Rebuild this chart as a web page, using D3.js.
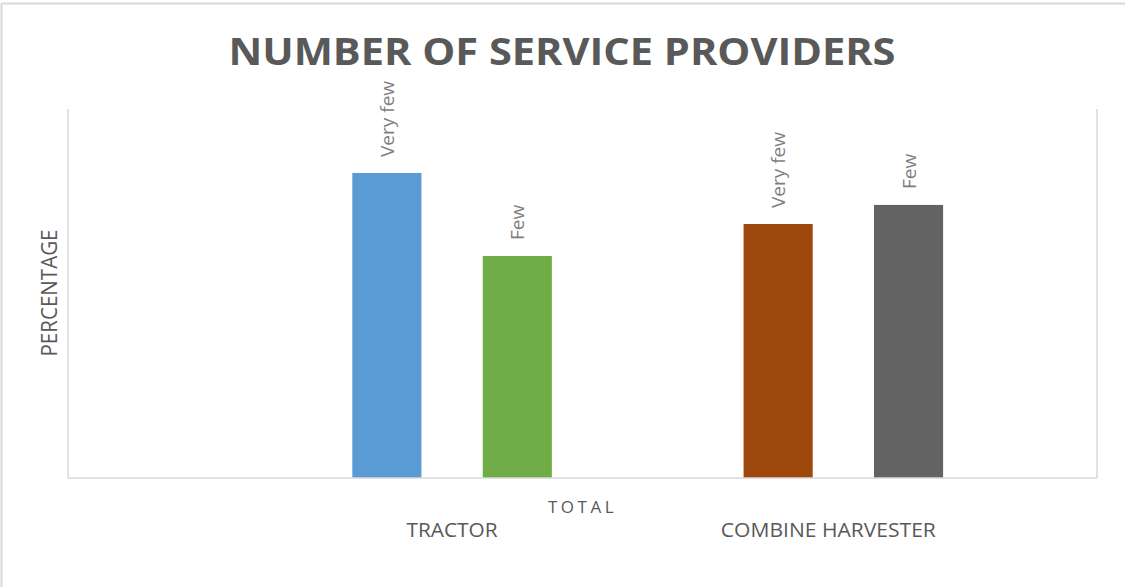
<!DOCTYPE html>
<html>
<head>
<meta charset="utf-8">
<script src="https://cdn.jsdelivr.net/npm/d3@7"></script>
<style>
  html, body { margin: 0; padding: 0; background: #fff; }
  svg { display: block; }
</style>
</head>
<body>
<div class="chart"></div>
<script>
// data
var seriesNames = ["Very few", "Few", "Very few", "Few"];
var seriesValues = [49.6, 36.1, 41.3, 44.4];
var seriesSlots = [2, 3, 5, 6]; // position of each bar among the axis slots
var seriesColors = ["#5B9BD5", "#70AD47", "#9E480E", "#636363"];
var groupNames = ["TRACTOR", "COMBINE HARVESTER"];
var groupSlots = [[2, 3], [5, 6]];
var categoryName = "TOTAL";

var W = 1125, H = 587;
var margin = { top: 109, right: 28, bottom: 109, left: 68 };
var width = W - margin.left - margin.right, height = H - margin.top - margin.bottom;

var svg = d3.select(".chart")
    .append("svg")
    .attr("width", W)
    .attr("height", H);

// outer frame (only top and left edges show)
svg.append("line").attr("x1", 1.5).attr("x2", W).attr("y1", 3.5).attr("y2", 3.5)
    .attr("stroke", "#d9d9d9").attr("stroke-width", 2);
svg.append("line").attr("x1", 1.5).attr("x2", 1.5).attr("y1", 3.5).attr("y2", H)
    .attr("stroke", "#d9d9d9").attr("stroke-width", 2);

var g = svg.append("g")
    .attr("transform", "translate(" + margin.left + "," + margin.top + ")");

var x = d3.scaleBand()
    .domain(d3.range(8))
    .range([0, width])
    .paddingInner(0.47)
    .paddingOuter(0.18);

var y = d3.scaleLinear()
    .domain([0, 60])
    .range([height, 0]);

// plot frame lines
g.append("line").attr("x1", 0).attr("x2", 0).attr("y1", 0).attr("y2", height)
    .attr("stroke", "#d9d9d9").attr("stroke-width", 1.5);
g.append("line").attr("x1", width).attr("x2", width).attr("y1", 0).attr("y2", height)
    .attr("stroke", "#d9d9d9").attr("stroke-width", 1.5);

// bars
g.selectAll("rect.bar")
    .data(seriesValues)
    .enter().append("rect")
    .attr("class", "bar")
    .attr("x", function (d, i) { return x(seriesSlots[i]); })
    .attr("y", function (d) { return y(d); })
    .attr("width", x.bandwidth())
    .attr("height", function (d) { return height - y(d); })
    .attr("fill", function (d, i) { return seriesColors[i]; });

// data labels (series names, rotated)
g.selectAll("text.dlabel")
    .data(seriesValues)
    .enter().append("text")
    .attr("class", "dlabel")
    .attr("transform", function (d, i) {
        return "translate(" + (x(seriesSlots[i]) + x.bandwidth() / 2 + 7) + "," + (y(d) - 16) + ") rotate(-90)";
    })
    .attr("text-anchor", "start")
    .attr("font-family", "'Open Sans', sans-serif")
    .attr("font-size", 19)
    .attr("fill", "#7f7f7f")
    .text(function (d, i) { return seriesNames[i]; });

// baseline axis
g.append("line").attr("x1", 0).attr("x2", width).attr("y1", height).attr("y2", height)
    .attr("stroke", "#d9d9d9").attr("stroke-width", 1.5);

// category label
g.append("text")
    .attr("x", width / 2)
    .attr("y", height + 35)
    .attr("text-anchor", "middle")
    .attr("font-family", "'Open Sans', sans-serif")
    .attr("font-size", 17)
    .attr("letter-spacing", 3.5)
    .attr("fill", "#595959")
    .text(categoryName);

// group labels
var groupShift = [0, -15];
g.selectAll("text.glabel")
    .data(groupNames)
    .enter().append("text")
    .attr("class", "glabel")
    .attr("x", function (d, i) {
        var s = groupSlots[i];
        return (x(s[0]) + x(s[1]) + x.bandwidth()) / 2 + groupShift[i];
    })
    .attr("y", height + 59)
    .attr("text-anchor", "middle")
    .attr("font-family", "'Open Sans', sans-serif")
    .attr("font-size", 20)
    .attr("fill", "#595959")
    .attr("textLength", function (d, i) { return i === 0 ? 91 : 215; })
    .attr("lengthAdjust", "spacingAndGlyphs")
    .text(function (d) { return d; });

// y axis title
svg.append("text")
    .attr("transform", "translate(57,293) rotate(-90)")
    .attr("text-anchor", "middle")
    .attr("font-family", "'Open Sans', sans-serif")
    .attr("font-size", 22)
    .attr("fill", "#595959")
    .attr("textLength", 127)
    .attr("lengthAdjust", "spacingAndGlyphs")
    .text("PERCENTAGE");

// chart title
svg.append("text")
    .attr("x", 562)
    .attr("y", 65)
    .attr("text-anchor", "middle")
    .attr("font-family", "'Open Sans', sans-serif")
    .attr("font-weight", "bold")
    .attr("font-size", 38)
    .attr("fill", "#595959")
    .attr("textLength", 667)
    .attr("lengthAdjust", "spacingAndGlyphs")
    .text("NUMBER OF SERVICE PROVIDERS");
</script>
</body>
</html>
